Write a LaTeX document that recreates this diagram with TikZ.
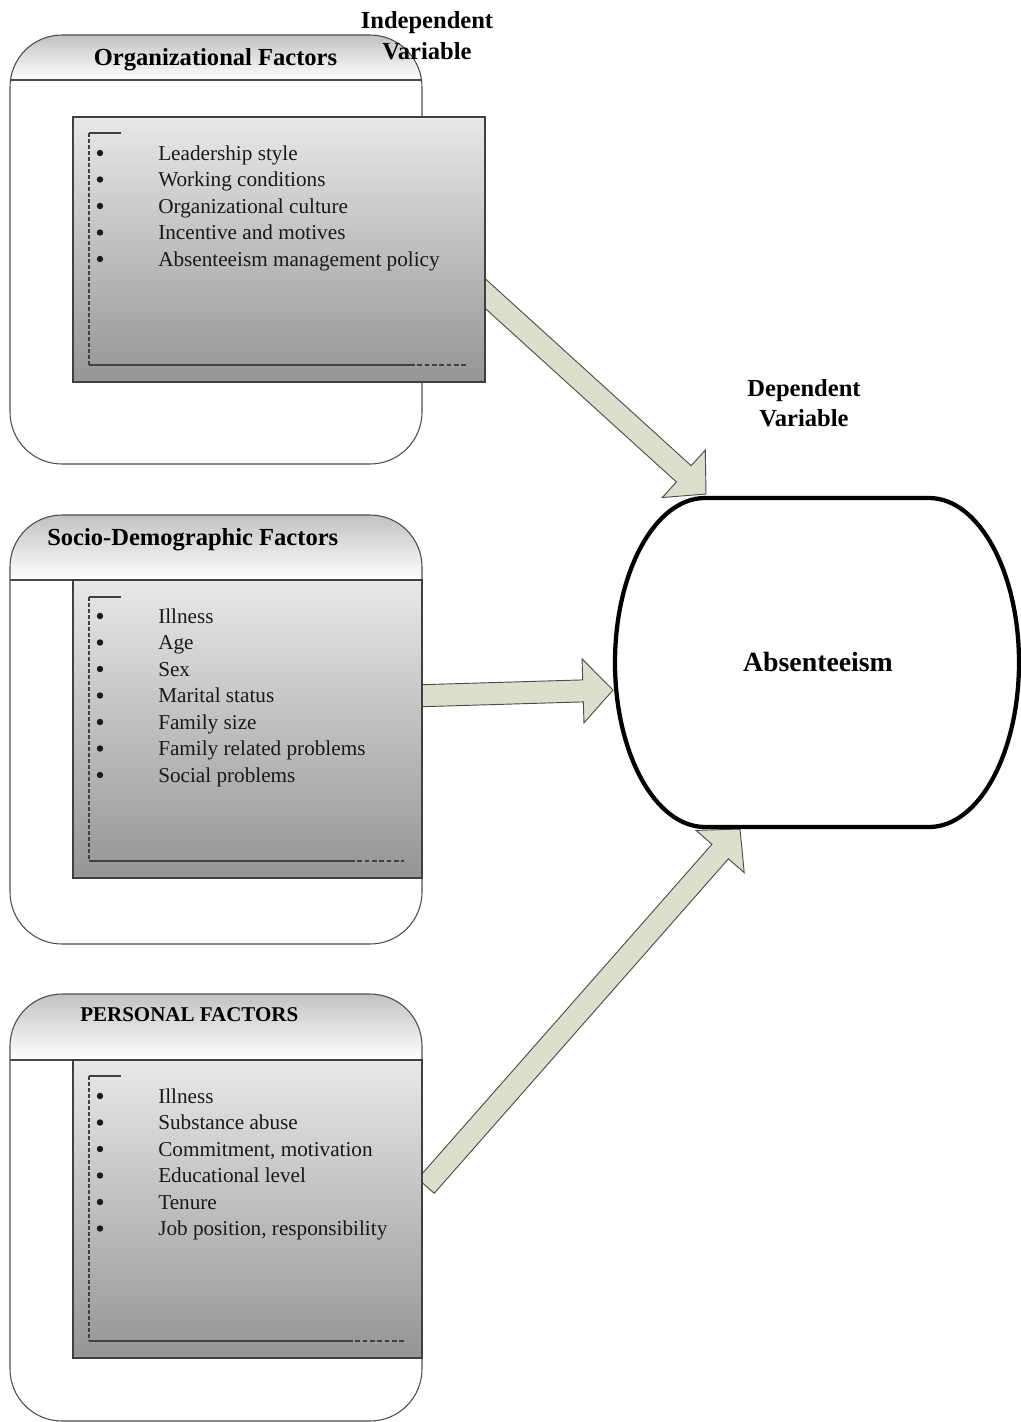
\documentclass[tikz,border=0pt]{standalone}
\usepackage{fontspec}
\setmainfont{Liberation Serif}
\usetikzlibrary{calc}
\definecolor{hdrtop}{HTML}{C2C2C2}
\definecolor{innertop}{HTML}{E8E8E8}
\definecolor{innerbot}{HTML}{959595}
\definecolor{arrowfill}{HTML}{DCDFCC}
\definecolor{arrowline}{HTML}{4D4D4D}
\tikzset{
  outerline/.style={draw=black!70, line width=0.8pt},
  innerbox/.style={draw=black!75, line width=1pt, top color=innertop, bottom color=innerbot, inner sep=0pt, outer sep=0pt, anchor=north west},
  item/.style={anchor=base west, font=\fontsize{15.9}{19}\selectfont, text=black!90, inner sep=0pt},
  bul/.style={circle, fill=black!90, inner sep=0pt, minimum size=4.8pt},
  guide/.style={draw=black!75, line width=0.9pt},
  guidedash/.style={guide, dash pattern=on 3pt off 1.5pt},
  fatarrow/.style={fill=arrowfill, draw=arrowline, line width=0.7pt, line join=miter},
  hdr/.style={font=\bfseries\fontsize{18.4}{22}\selectfont, inner sep=0pt},
  varlabel/.style={font=\bfseries\fontsize{18.4}{22}\selectfont, inner sep=0pt, anchor=base},
}
\newcommand{\obox}[3]{%
  \begin{scope}
    \clip[rounded corners=39pt] (10,#1) rectangle (422,#3);
    \shade[top color=hdrtop, bottom color=white] (10,#1) rectangle (422,#2);
  \end{scope}
  \draw[outerline] (10,#2) -- (422,#2);
  \draw[outerline, rounded corners=39pt] (10,#1) rectangle (422,#3);
}
\newcommand{\guides}[4]{%
  \draw[guide] (89,#1) -- (121,#1);
  \draw[guidedash] (89,#1) -- (89,#2);
  \draw[guide] (89,#2) -- (#3,#2);
  \draw[guide, dash pattern=on 3.5pt off 2pt] (#3,#2) -- (#4,#2);
}
\newcommand{\itemlist}[3]{%
  \foreach \t [count=\i from 0] in {#3} {
    \node[bul] (b#1-\i) at (100,{#2-7+26.5*\i}) {};
    \node[item] (i#1-\i) at (158,{#2+26.5*\i}) {\t};
  }
}
\newcommand{\blockarr}[2]{%
  \coordinate (fa-b) at ($(#2)!22.5pt!(#1)$);
  \draw[fatarrow] ($(#1)!8.25pt!90:(#2)$) -- ($(fa-b)!8.25pt!90:(#2)$) -- ($(fa-b)!24pt!90:(#2)$) -- (#2) -- ($(fa-b)!24pt!-90:(#2)$) -- ($(fa-b)!8.25pt!-90:(#2)$) -- ($(#1)!8.25pt!-90:(#2)$) -- cycle;
}
\begin{document}
\begin{tikzpicture}[x=0.75pt, y=-0.75pt]
\useasboundingbox (0,0) rectangle (1021,1422);

% arrow end points
\coordinate (t1) at (478,287);
\coordinate (p1) at (706,494);
\coordinate (t2) at (412,696);
\coordinate (p2) at (613,690);
\coordinate (t3) at (426,1186);
\coordinate (p3) at (740,829);

% arrows (behind boxes)
\blockarr{t1}{p1}
\blockarr{t2}{p2}
\blockarr{t3}{p3}

% outer boxes
\obox{35}{80}{464}
\obox{515}{580}{944}
\obox{994}{1060}{1421}

% inner boxes
\node[innerbox, minimum width=309pt, minimum height=198.75pt] (in1) at (73,117) {};
\node[innerbox, minimum width=261.75pt, minimum height=223.5pt] (in2) at (73,580) {};
\node[innerbox, minimum width=261.75pt, minimum height=223.5pt] (in3) at (73,1060) {};

\guides{133}{365}{410}{468}
\guides{597}{861}{350}{404}
\guides{1076}{1341}{348}{405}

% headers
\node[hdr, anchor=base] (h1) at (215.5,65) {Organizational Factors};
\node[hdr, anchor=base west] (h2) at (47,545) {Socio-Demographic Factors};
\node[hdr, anchor=base west, font=\bfseries\fontsize{15.75}{19}\selectfont] (h3) at (80,1021) {PERSONAL FACTORS};

% items
\itemlist{1}{160}{Leadership style, Working conditions, Organizational culture, Incentive and motives, Absenteeism management policy}
\itemlist{2}{623}{Illness, Age, Sex, Marital status, Family size, Family related problems, Social problems}
\itemlist{3}{1103}{Illness, Substance abuse, {Commitment, motivation}, Educational level, Tenure, {Job position, responsibility}}

% variable labels
\node[varlabel] (iv1) at (427,28) {Independent};
\node[varlabel] (iv2) at (427,59) {Variable};
\node[varlabel] (dv1) at (804,396) {Dependent};
\node[varlabel] (dv2) at (804,426) {Variable};

% absenteeism
\draw[line width=3.2pt] (705,498) -- (929,498)
  arc[start angle=-90, end angle=90, x radius=90, y radius=164.5] -- (705,827)
  arc[start angle=90, end angle=270, x radius=90, y radius=164.5] -- cycle;
\node[font=\bfseries\fontsize{20.85}{25}\selectfont, inner sep=0pt] (abs) at (818,662) {Absenteeism};
\end{tikzpicture}
\end{document}
